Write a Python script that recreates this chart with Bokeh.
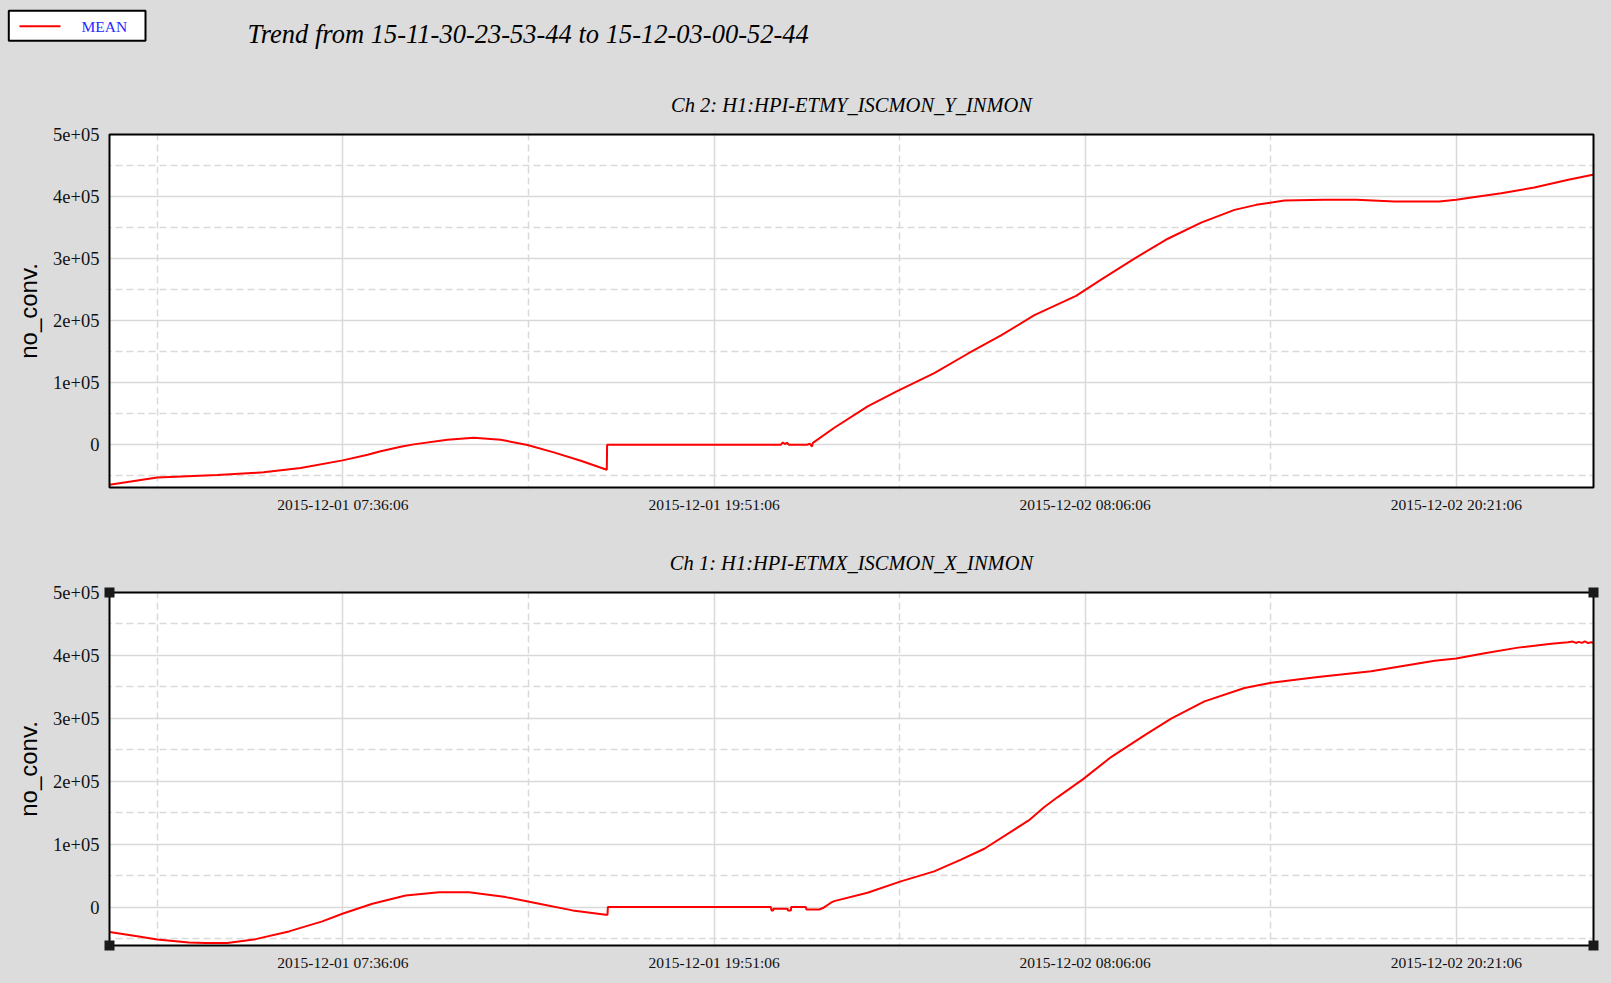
from datetime import datetime, timedelta

from bokeh.plotting import figure
from bokeh.layouts import column, row
from bokeh.models import (Range1d, FixedTicker, DatetimeTickFormatter,
                          GlobalInlineStyleSheet)
from bokeh.core.properties import value
from bokeh.embed import file_html
from bokeh.resources import INLINE

# ---------------- data ----------------
START = "2015-11-30 23:53:44"
END = "2015-12-03 00:52:44"
MAIN_TITLE = "Trend from 15-11-30-23-53-44 to 15-12-03-00-52-44"
LEGEND_LABEL = "MEAN"
Y_LABEL = "no_conv."

X_TICK_LABELS = ["2015-12-01 07:36:06", "2015-12-01 19:51:06",
                 "2015-12-02 08:06:06", "2015-12-02 20:21:06"]
Y_TICK_VALUES = [0, 100000, 200000, 300000, 400000, 500000]
Y_TICK_LABELS = ["0", "1e+05", "2e+05", "3e+05", "4e+05", "5e+05"]
Y_MINOR_VALUES = [-50000, 50000, 150000, 250000, 350000, 450000]
Y_MAX = 500000

CH2_TITLE = "Ch 2: H1:HPI-ETMY_ISCMON_Y_INMON"
CH2_YMIN = -69000
CH2_HOURS = [0.0, 1.575, 3.557, 5.086, 6.308, 7.695, 8.521, 8.95, 9.611, 10.04,
             11.153, 12.022, 12.914, 13.796, 14.664, 15.556, 16.415, 16.425,
             22.161, 22.227, 22.293, 22.36, 22.426, 23.02, 23.119, 23.185, 23.218,
             23.912, 25.025, 25.983, 27.224, 28.328, 29.427, 30.528, 31.904,
             32.73, 33.83, 34.933, 36.033, 37.133, 37.85, 38.784, 40.085, 41.152,
             42.407, 43.893, 44.455, 44.95, 45.941, 47.031, 48.154, 49.0]
CH2_MEAN = [-64400, -52700, -48800, -44600, -37600, -25300, -16100, -10500, -3300, 500,
            7800, 11000, 8000, -500, -12400, -25800, -40300, 0,
            0, 3500, 1000, 3000, 0, 0, 1500, -3000, 3000,
            26900, 61700, 85900, 115500, 146600, 176100, 208900, 240000,
            266000, 300000, 332000, 358000, 378500, 386600, 393600, 394700, 394700,
            392000, 392000, 394700, 398400, 405400, 414500, 426900, 435400]

CH1_TITLE = "Ch 1: H1:HPI-ETMX_ISCMON_X_INMON"
CH1_YMIN = -61000
CH1_HOURS = [0.0, 0.968, 1.575, 2.622, 3.17, 3.887, 4.822, 5.922, 7.025, 7.686,
             8.677, 9.777, 10.877, 11.868, 13.081, 14.181, 15.285, 16.385, 16.438,
             16.45, 21.831, 21.85, 21.907, 21.91, 22.383, 22.39, 22.492, 22.5,
             22.987, 23.0, 23.426, 23.55, 23.813, 23.92, 25.02, 26.12, 27.22,
             28.106, 28.876, 30.342, 30.857, 31.3, 32.126, 33.06, 34.16, 35.042,
             36.142, 37.463, 38.345, 39.887, 41.647, 42.64, 43.74, 44.45, 45.39,
             46.49, 47.59, 48.14, 48.3, 48.4, 48.5, 48.6, 48.7, 48.8, 48.9, 49.0]
CH1_MEAN = [-39500, -46600, -51400, -56100, -57200, -57200, -50900, -38600, -22700, -10500,
            5400, 18600, 23800, 23800, 15900, 5400, -5200, -12100, -12100,
            0, 0, -5200, -5200, -2600, -2600, -5200, -5200, 0,
            0, -3700, -3700, -1500, 7000, 9500, 22900, 40900, 56800,
            75400, 92800, 137800, 159000, 174900, 203000, 238500, 273000, 299500,
            327000, 348200, 356700, 365700, 374700, 382700, 391500, 395000, 403500,
            412400, 418700, 420800, 422000, 419800, 421500, 420000, 422500, 419500, 421000, 419700]

# ---------------- helpers ----------------
EPOCH = datetime(1970, 1, 1)
FMT = "%Y-%m-%d %H:%M:%S"


def to_ms(dt):
    return (dt - EPOCH).total_seconds() * 1000.0


start_dt = datetime.strptime(START, FMT)
end_dt = datetime.strptime(END, FMT)
x_start, x_end = to_ms(start_dt), to_ms(end_dt)

major_ms = [to_ms(datetime.strptime(s, FMT)) for s in X_TICK_LABELS]
step = major_ms[1] - major_ms[0]
minor_ms = [t - step / 2 for t in major_ms] + [major_ms[-1] + step / 2]

BG = "#dcdcdc"
GRID = "#d9d9d9"
SERIF = "Liberation Serif"
W = 1611
HEADER_H = 62
FRAME_W = 1484      # width of the drawn plot box
FRAME_H = 353       # height of the drawn plot box
PAD = 5             # extra room around the plot box for the corner handles


def make_plot(title, hours, vals, ymin, height, top, bottom, handles=False):
    px_x = (x_end - x_start) / FRAME_W
    px_y = (Y_MAX - ymin) / FRAME_H
    p = figure(width=W, height=height, x_axis_type="datetime",
               x_range=Range1d(x_start - PAD * px_x, x_end + PAD * px_x),
               y_range=Range1d(ymin - PAD * px_y, Y_MAX + PAD * px_y),
               output_backend="svg", toolbar_location=None,
               min_border_left=109 - PAD, min_border_right=18 - PAD,
               min_border_top=top - PAD, min_border_bottom=bottom - PAD)
    p.background_fill_color = BG
    p.border_fill_color = BG
    p.outline_line_color = None

    # white plotting area under the grid, black box on top
    p.quad(left=[x_start], right=[x_end], bottom=[ymin], top=[Y_MAX],
           fill_color="white", line_color=None, level="image")

    p.title.text = title
    p.title.align = "center"
    p.title.text_font = SERIF
    p.title.text_font_style = "italic"
    p.title.text_font_size = "20.5px"
    p.title.text_color = "black"
    p.title.standoff = 27

    xs = [start_dt + timedelta(hours=h) for h in hours]
    p.line(xs, vals, line_color="red", line_width=2)

    p.quad(left=[x_start], right=[x_end], bottom=[ymin], top=[Y_MAX],
           fill_color=None, line_color="black", line_width=2, level="overlay")
    if handles:
        p.scatter(x=[x_start, x_start, x_end, x_end], y=[ymin, Y_MAX, ymin, Y_MAX],
                  marker="square", size=10, fill_color="#1a1a1a", line_color=None,
                  level="overlay")

    p.xaxis.ticker = FixedTicker(ticks=major_ms, minor_ticks=minor_ms)
    p.xaxis.formatter = DatetimeTickFormatter(
        microseconds=FMT, milliseconds=FMT, seconds=FMT, minsec=FMT,
        minutes=FMT, hourmin=FMT, hours=FMT, days=FMT, months=FMT, years=FMT)
    p.yaxis.ticker = FixedTicker(ticks=Y_TICK_VALUES, minor_ticks=Y_MINOR_VALUES)
    p.yaxis.major_label_overrides = dict(zip(Y_TICK_VALUES, Y_TICK_LABELS))

    for ax in (p.xaxis[0], p.yaxis[0]):
        ax.axis_line_color = None
        ax.major_tick_line_color = None
        ax.minor_tick_line_color = None
        ax.major_tick_out = 0
        ax.major_tick_in = 0
        ax.minor_tick_out = 0
        ax.minor_tick_in = 0
        ax.major_label_text_font = SERIF
        ax.major_label_text_color = "#111111"
    p.xaxis.major_label_text_font_size = "15.5px"
    p.xaxis.major_label_standoff = 3
    p.yaxis.major_label_text_font_size = "18.5px"
    p.yaxis.major_label_standoff = 5
    p.yaxis.axis_label = Y_LABEL
    p.yaxis.axis_label_text_font = "Liberation Sans"
    p.yaxis.axis_label_text_font_style = "normal"
    p.yaxis.axis_label_text_font_size = "24px"
    p.yaxis.axis_label_text_color = "black"
    p.yaxis.axis_label_standoff = 8

    for g in (p.xgrid[0], p.ygrid[0]):
        g.grid_line_color = GRID
        g.grid_line_width = 1.5
        g.minor_grid_line_color = GRID
        g.minor_grid_line_width = 1.5
        g.minor_grid_line_dash = "7 4"
    return p


# ---------------- header: legend box + overall title ----------------
header = figure(width=W, height=HEADER_H, x_range=Range1d(0, W),
                y_range=Range1d(HEADER_H, 0), output_backend="svg",
                toolbar_location=None, min_border=0,
                x_axis_location=None, y_axis_location=None,
                stylesheets=[GlobalInlineStyleSheet(css="html, body { background-color: #dcdcdc; }")])
header.grid.visible = False
header.outline_line_color = None
header.background_fill_color = BG
header.border_fill_color = BG

header.quad(left=[8.3], right=[145], top=[10.3], bottom=[40.3],
            fill_color="white", line_color="black", line_width=2)
header.line([19, 60], [25.7, 25.7], line_color="red", line_width=2)
header.text(x=[81], y=[26], text=[LEGEND_LABEL], text_font=value(SERIF),
            text_font_size="15.5px", text_color="#2a2aff", text_baseline="middle",
            text_align="left")
header.text(x=[247], y=[33], text=[MAIN_TITLE], text_font=value(SERIF),
            text_font_style="italic", text_font_size="26.5px", text_color="black",
            text_baseline="middle", text_align="left")

p_top = make_plot(CH2_TITLE, CH2_HOURS, CH2_MEAN, CH2_YMIN, 530 - HEADER_H,
                  134 - HEADER_H, 43)
p_bot = make_plot(CH1_TITLE, CH1_HOURS, CH1_MEAN, CH1_YMIN, 453, 62, 38, handles=True)

layout = column(row(header, spacing=0), p_top, p_bot, spacing=0)

open("out.html", "w").write(file_html(layout, INLINE))
